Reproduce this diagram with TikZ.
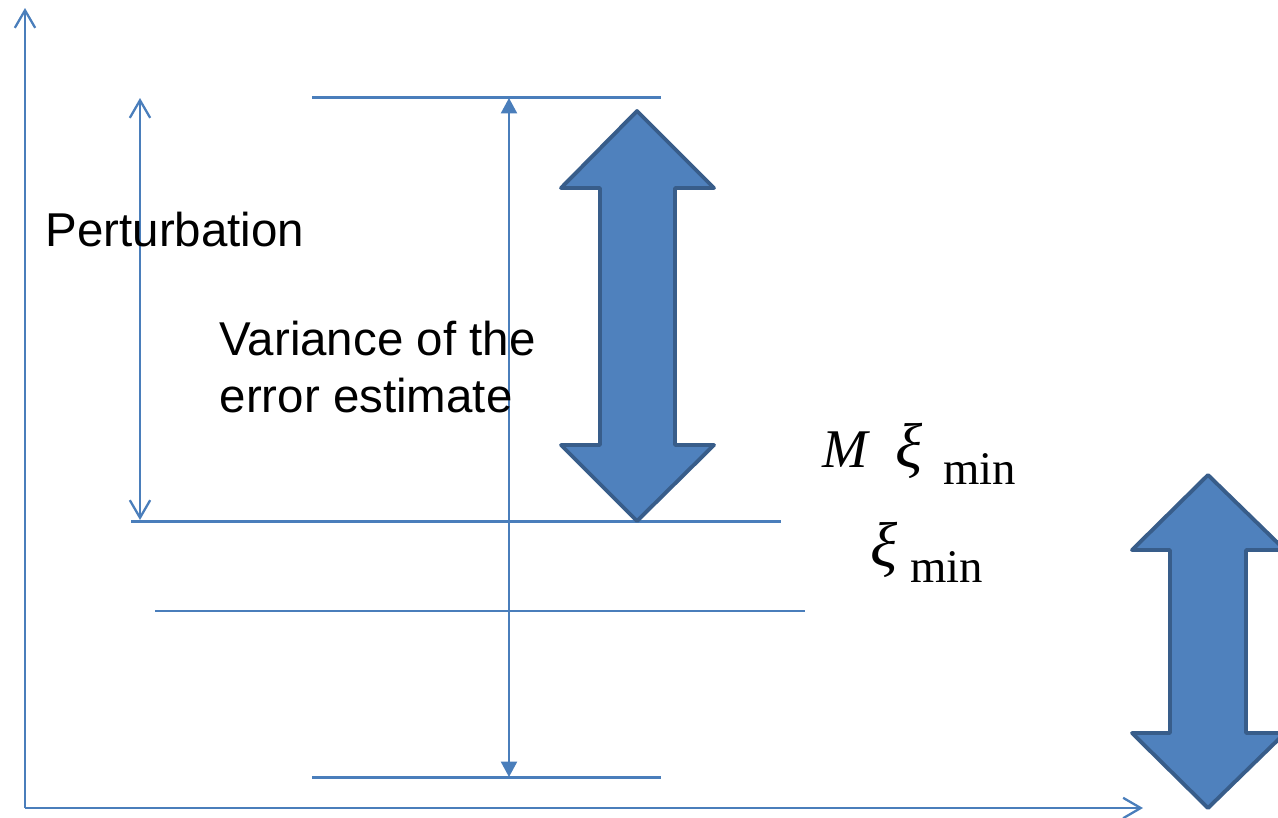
\documentclass[tikz,border=0pt]{standalone}
\usepackage{fontspec}
\setmainfont{Liberation Sans}
\newfontfamily\timesfont{Liberation Serif}
\usetikzlibrary{arrows.meta}
\definecolor{lineblue}{HTML}{4A7EBB}
\definecolor{fillblue}{HTML}{4F81BD}
\definecolor{edgeblue}{HTML}{385D8A}

\begin{document}
\begin{tikzpicture}[x=0.01cm,y=-0.01cm,line cap=butt,
  barb/.tip={Straight Barb[length=5pt,width=5.8pt,line width=0.65pt]},
  tri/.tip={Triangle[length=4.4pt,width=4.6pt]},
  level/.style={lineblue,line width=0.85pt},
  bigarrow/.style={fill=fillblue,draw=edgeblue,line width=1.1pt,line join=round},
  label/.style={inner sep=0pt,font=\fontsize{13.5}{16.2}\selectfont},
  sym/.style={inner sep=0pt,anchor=base west,font=\timesfont\fontsize{15.5}{15.5}\selectfont}]
\useasboundingbox (0,0) rectangle (1278,817);
% axes
\coordinate (O) at (25,808);
\coordinate (ytop) at (25,8);
\coordinate (xend) at (1143,808);
\draw[lineblue,line width=0.65pt,-barb] (O) -- (ytop);
\draw[lineblue,line width=0.65pt,-barb] (O) -- (xend);
% levels
\draw[level] (312,97) -- (661,97);
\draw[level] (131,521) -- (781,521);
\draw[level,line width=0.7pt] (155,611) -- (805,611);
\draw[level] (312,777) -- (661,777);
% perturbation and variance
\coordinate (pt) at (140,98);
\coordinate (pb) at (140,520);
\draw[lineblue,line width=0.5pt,barb-barb] (pt) -- (pb);
\coordinate (vt) at (509,98);
\coordinate (vb) at (509,777);
\draw[lineblue,line width=0.55pt,tri-tri] (vt) -- (vb);
% block arrows
\draw[bigarrow] (637,111) -- (714,188) -- (675,188) -- (675,445) -- (714,445)
  -- (637,521) -- (561,445) -- (600,445) -- (600,188) -- (561,188) -- cycle;
\draw[bigarrow] (1208,475) -- (1285,550) -- (1246,550) -- (1246,733) -- (1285,733)
  -- (1208,808) -- (1132,733) -- (1170,733) -- (1170,550) -- (1132,550) -- cycle;
% texts
\node[label,anchor=base west] (pert) at (45,246) {Perturbation};
\node[label,anchor=north west,align=left] (var) at (219,320) {Variance of the\\error estimate};
\node[sym] (lbM) at (822,467)
  {\textit{M}\hspace{7pt}{\fontsize{18}{18}\selectfont\textit{ξ}}\hspace{6pt}\raisebox{-5.1pt}{\fontsize{13.3}{13.3}\selectfont min}};
\node[sym] (lbxi) at (870,566)
  {{\fontsize{18}{18}\selectfont\textit{ξ}}\hspace{3.5pt}\raisebox{-4.8pt}{\fontsize{13.3}{13.3}\selectfont min}};
\end{tikzpicture}
\end{document}
